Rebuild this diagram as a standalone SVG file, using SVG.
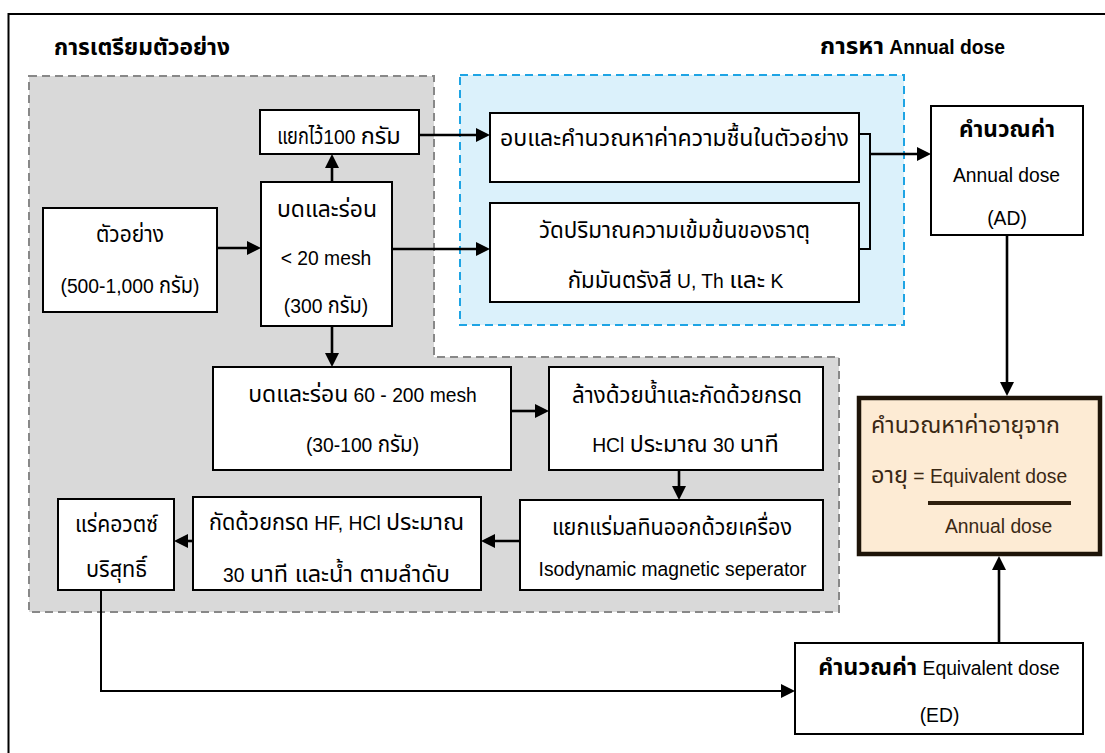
<svg xmlns="http://www.w3.org/2000/svg" width="1105" height="753" viewBox="0 0 1105 753">
  <style>
    text { font-family: "Liberation Sans", "Noto Sans Thai", "Noto Sans", "DejaVu Sans", sans-serif; font-size: 19.3px; fill: #000; }
    .th { font-size: 23px; }
    .c { text-anchor: middle; }
    .b { font-weight: bold; }
    .box { fill: #fff; stroke: #000; stroke-width: 2; }
    .link { fill: none; stroke: #000; stroke-width: 2.6; }
    .thin { fill: none; stroke: #000; stroke-width: 2; }
    .age { fill: #3a2814; }
  </style>
  <defs>
    <marker id="arrow" viewBox="0 0 14 14" refX="6" refY="7" markerWidth="14" markerHeight="14" markerUnits="userSpaceOnUse" orient="auto">
      <path d="M0,0 L14,7 L0,14 z" fill="#000"/>
    </marker>
  </defs>

  <rect width="1105" height="753" fill="#fff"/>
  <!-- outer frame -->
  <path d="M8.5,753 V14 H1105" fill="none" stroke="#000" stroke-width="2"/>

  <!-- section areas -->
  <g id="prep-area">
    <path d="M29,76 H434 V357 H839 V612 H29 Z" fill="#d9d9d9" stroke="#888" stroke-width="2" stroke-dasharray="8 5"/>
    <text class="b th" x="54" y="55" textLength="176" lengthAdjust="spacingAndGlyphs">การเตรียมตัวอย่าง</text>
  </g>
  <g id="dose-area">
    <rect x="460" y="75" width="444" height="250" fill="#dbf1fb" stroke="#1ea4e4" stroke-width="2" stroke-dasharray="8 5"/>
    <text class="b" x="820" y="54"><tspan class="th" textLength="64" lengthAdjust="spacingAndGlyphs">การหา</tspan> Annual dose</text>
  </g>

  <!-- connectors -->
  <g id="connectors">
    <path class="link" d="M217,248 H253" marker-end="url(#arrow)"/>
    <path class="link" d="M332,182 V162" marker-end="url(#arrow)"/>
    <path class="link" d="M419,135 H482" marker-end="url(#arrow)"/>
    <path class="link" d="M392,249 H482" marker-end="url(#arrow)"/>
    <path class="link" d="M332,326 V359" marker-end="url(#arrow)"/>
    <path class="thin" d="M859,134 H870 V249 H859"/>
    <path class="link" d="M870,154 H923" marker-end="url(#arrow)"/>
    <path class="link" d="M1007,235 V388" marker-end="url(#arrow)"/>
    <path class="link" d="M511,411 H541" marker-end="url(#arrow)"/>
    <path class="link" d="M679,470 V492" marker-end="url(#arrow)"/>
    <path class="link" d="M522,541 H489" marker-end="url(#arrow)"/>
    <path class="link" d="M193,541 H182" marker-end="url(#arrow)"/>
    <path class="thin" d="M101,590 V691 H787" marker-end="url(#arrow)"/>
    <path class="link" d="M999,643 V564" marker-end="url(#arrow)"/>
  </g>

  <g id="sample">
    <rect class="box" x="43" y="208" width="174" height="104"/>
    <text class="c th" x="130" y="242" textLength="68" lengthAdjust="spacingAndGlyphs">ตัวอย่าง</text>
    <text class="c" x="130" y="293">(500-1,000 <tspan class="th" textLength="34" lengthAdjust="spacingAndGlyphs">กรัม</tspan>)</text>
  </g>
  <g id="sieve-20">
    <rect class="box" x="261" y="182" width="131" height="144"/>
    <text class="c th" x="327" y="217" textLength="100" lengthAdjust="spacingAndGlyphs">บดและร่อน</text>
    <text class="c" x="326" y="265">&lt; 20 mesh</text>
    <text class="c" x="326" y="313">(300 <tspan class="th" textLength="34" lengthAdjust="spacingAndGlyphs">กรัม</tspan>)</text>
  </g>
  <g id="split-100">
    <rect class="box" x="260" y="110" width="159" height="44"/>
    <text class="c" x="339" y="144"><tspan class="th" textLength="46" lengthAdjust="spacingAndGlyphs">แยกไว้</tspan>100 <tspan class="th" textLength="40" lengthAdjust="spacingAndGlyphs">กรัม</tspan></text>
  </g>
  <g id="moisture">
    <rect class="box" x="490" y="113" width="369" height="69"/>
    <text class="c th" x="674.5" y="146" textLength="349" lengthAdjust="spacingAndGlyphs">อบและคำนวณหาค่าความชื้นในตัวอย่าง</text>
  </g>
  <g id="radio-elements">
    <rect class="box" x="490" y="203" width="369" height="99"/>
    <text class="c th" x="674.5" y="238" textLength="271" lengthAdjust="spacingAndGlyphs">วัดปริมาณความเข้มข้นของธาตุ</text>
    <text class="c" x="675.5" y="288"><tspan class="th" textLength="104" lengthAdjust="spacingAndGlyphs">กัมมันตรังสี</tspan>  U, Th <tspan class="th" textLength="36" lengthAdjust="spacingAndGlyphs">และ</tspan> K</text>
  </g>
  <g id="annual-dose">
    <rect class="box" x="931" y="106" width="152" height="129"/>
    <text class="c b th" x="1007" y="137" textLength="96" lengthAdjust="spacingAndGlyphs">คำนวณค่า</text>
    <text class="c" x="1006.5" y="182">Annual dose</text>
    <text class="c" x="1007" y="225">(AD)</text>
  </g>
  <g id="sieve-60">
    <rect class="box" x="213" y="367" width="298" height="103"/>
    <text class="c" x="362.5" y="402"><tspan class="th" textLength="100" lengthAdjust="spacingAndGlyphs">บดและร่อน</tspan> 60 - 200 mesh</text>
    <text class="c" x="362.5" y="452">(30-100 <tspan class="th" textLength="35" lengthAdjust="spacingAndGlyphs">กรัม</tspan>)</text>
  </g>
  <g id="wash-hcl">
    <rect class="box" x="549" y="367" width="274" height="103"/>
    <text class="c th" x="687" y="403" textLength="230" lengthAdjust="spacingAndGlyphs">ล้างด้วยน้ำและกัดด้วยกรด</text>
    <text class="c" x="685.5" y="452">HCl <tspan class="th" textLength="78" lengthAdjust="spacingAndGlyphs">ประมาณ</tspan> 30 <tspan class="th" textLength="39" lengthAdjust="spacingAndGlyphs">นาที</tspan></text>
  </g>
  <g id="magnetic">
    <rect class="box" x="520" y="500" width="303" height="90"/>
    <text class="c th" x="672" y="535" textLength="240" lengthAdjust="spacingAndGlyphs">แยกแร่มลทินออกด้วยเครื่อง</text>
    <text class="c" x="672.5" y="576">Isodynamic magnetic seperator</text>
  </g>
  <g id="hf-etch">
    <rect class="box" x="193" y="497" width="288" height="93"/>
    <text class="c" x="336.5" y="530"><tspan class="th" textLength="100" lengthAdjust="spacingAndGlyphs">กัดด้วยกรด</tspan> HF, HCl <tspan class="th" textLength="78" lengthAdjust="spacingAndGlyphs">ประมาณ</tspan></text>
    <text class="c" x="336.5" y="582">30 <tspan class="th" textLength="200" lengthAdjust="spacingAndGlyphs">นาที และน้ำ ตามลำดับ</tspan></text>
  </g>
  <g id="pure-quartz">
    <rect class="box" x="58" y="499" width="116" height="91"/>
    <text class="c th" x="116.5" y="532" textLength="83" lengthAdjust="spacingAndGlyphs">แร่คอวตซ์</text>
    <text class="c th" x="116.5" y="577" textLength="61" lengthAdjust="spacingAndGlyphs">บริสุทธิ์</text>
  </g>
  <g id="age">
    <rect x="859" y="398" width="241" height="156" fill="#fdebd4" stroke="#1e1408" stroke-width="4.5"/>
    <text class="age th" x="871" y="433" textLength="189" lengthAdjust="spacingAndGlyphs">คำนวณหาค่าอายุจาก</text>
    <text class="age" x="871" y="483"><tspan class="th" textLength="37" lengthAdjust="spacingAndGlyphs">อายุ</tspan> = Equivalent dose</text>
    <line x1="928" y1="503" x2="1071" y2="503" stroke="#2e1f0d" stroke-width="4"/>
    <text class="age" x="945" y="533">Annual dose</text>
  </g>
  <g id="equivalent-dose">
    <rect class="box" x="795" y="643" width="288" height="91"/>
    <text class="c" x="939" y="675"><tspan class="b th" textLength="99" lengthAdjust="spacingAndGlyphs">คำนวณค่า</tspan> Equivalent dose</text>
    <text class="c" x="939.5" y="722">(ED)</text>
  </g>
</svg>
